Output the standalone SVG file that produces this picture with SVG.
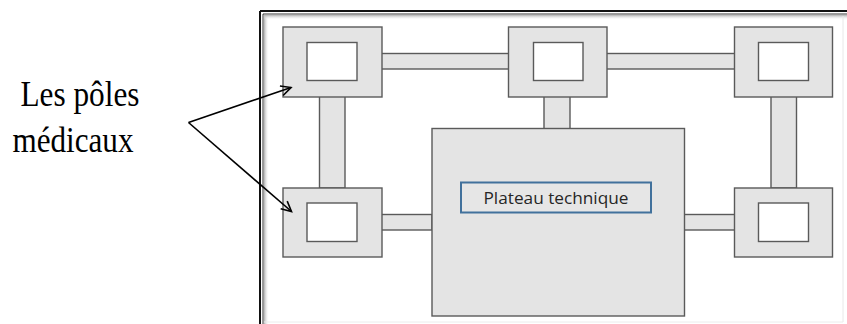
<svg xmlns="http://www.w3.org/2000/svg" width="847" height="324" viewBox="0 0 847 324">
  <defs>
    <style>
      .blk { fill: #e4e4e4; stroke: #5a5a5a; stroke-width: 1.4; }
      .win { fill: #ffffff; stroke: #5a5a5a; stroke-width: 1.4; }
      .bar { fill: #e4e4e4; stroke: #5a5a5a; stroke-width: 1.4; }
      .lbl { font-family: "Liberation Serif", "Times New Roman", serif; font-size: 35px; fill: #000; }
      .plat { font-family: "Open Sans", "Liberation Sans", sans-serif; font-size: 16.5px; fill: #262626; }
      .arrow { fill: none; stroke: #000; stroke-width: 1.6; }
    </style>
    <marker id="open" viewBox="0 0 12 12" refX="11" refY="6" markerWidth="12" markerHeight="12" markerUnits="userSpaceOnUse" orient="auto" overflow="visible">
      <path d="M1,1 L11,6 L1,11" fill="none" stroke="#000" stroke-width="1.6"/>
    </marker>
    <linearGradient id="shL" x1="0" y1="0" x2="1" y2="0">
      <stop offset="0" stop-color="#b0b0b0"/>
      <stop offset="1" stop-color="#ffffff" stop-opacity="0"/>
    </linearGradient>
    <linearGradient id="shT" x1="0" y1="0" x2="0" y2="1">
      <stop offset="0" stop-color="#b0b0b0"/>
      <stop offset="1" stop-color="#ffffff" stop-opacity="0"/>
    </linearGradient>
  </defs>

  <rect width="847" height="324" fill="#ffffff"/>

  <!-- frame -->
  <g id="frame">
    <rect x="264" y="15" width="5" height="309" fill="url(#shL)"/>
    <rect x="264" y="15" width="583" height="5" fill="url(#shT)"/>
    <line x1="260" y1="11" x2="847" y2="11" stroke="#111" stroke-width="2"/>
    <line x1="260" y1="11" x2="260" y2="324" stroke="#111" stroke-width="2"/>
    <line x1="263" y1="14" x2="847" y2="14" stroke="#333" stroke-width="1"/>
    <line x1="263" y1="14" x2="263" y2="324" stroke="#333" stroke-width="1"/>
    <line x1="843" y1="16" x2="843" y2="322" stroke="#e8e8e8" stroke-width="1"/>
    <line x1="264" y1="322" x2="843" y2="322" stroke="#ececec" stroke-width="1"/>
  </g>

  <!-- connectors -->
  <g id="connectors">
    <rect class="bar" x="381" y="53.5" width="128" height="15.5"/>
    <rect class="bar" x="606" y="53.5" width="129" height="15.5"/>
    <rect class="bar" x="319.5" y="96" width="25.5" height="92"/>
    <rect class="bar" x="544" y="96" width="26" height="33"/>
    <rect class="bar" x="771" y="96" width="25.5" height="92"/>
    <rect class="bar" x="381" y="214.5" width="51" height="15.5"/>
    <rect class="bar" x="684" y="214.5" width="51" height="15.5"/>
  </g>

  <!-- nodes -->
  <g id="pole-top-left">
    <rect class="blk" x="283" y="27" width="99" height="70"/>
    <rect class="win" x="307" y="42.5" width="50" height="38"/>
  </g>
  <g id="pole-top-middle">
    <rect class="blk" x="508.5" y="27" width="98.5" height="70"/>
    <rect class="win" x="533.5" y="42.5" width="49.5" height="38"/>
  </g>
  <g id="pole-top-right">
    <rect class="blk" x="734.5" y="27" width="98" height="70"/>
    <rect class="win" x="758.5" y="42.5" width="50" height="38"/>
  </g>
  <g id="pole-bottom-left">
    <rect class="blk" x="283" y="188" width="99" height="69"/>
    <rect class="win" x="307" y="203" width="50" height="38.5"/>
  </g>
  <g id="pole-bottom-right">
    <rect class="blk" x="734.5" y="188" width="98" height="69"/>
    <rect class="win" x="758.5" y="203" width="50" height="38.5"/>
  </g>
  <g id="plateau">
    <rect class="blk" x="432" y="128.5" width="252.5" height="187.5"/>
    <rect x="461" y="182.5" width="190" height="30" fill="#e6e6e6" stroke="#41719c" stroke-width="2"/>
    <text class="plat" x="556" y="203.5" text-anchor="middle" textLength="145" lengthAdjust="spacingAndGlyphs">Plateau technique</text>
  </g>

  <g id="label-poles">
    <text class="lbl" x="20.5" y="105.5" textLength="119" lengthAdjust="spacingAndGlyphs">Les pôles</text>
    <text class="lbl" x="12.5" y="151.5" textLength="121" lengthAdjust="spacingAndGlyphs">médicaux</text>
  </g>

  <!-- annotation arrows -->
  <g id="annotation-arrows">
    <line class="arrow" x1="188.5" y1="122.5" x2="291" y2="87.5" marker-end="url(#open)"/>
    <line class="arrow" x1="188.5" y1="122.5" x2="291.5" y2="211.5" marker-end="url(#open)"/>
  </g>
</svg>
